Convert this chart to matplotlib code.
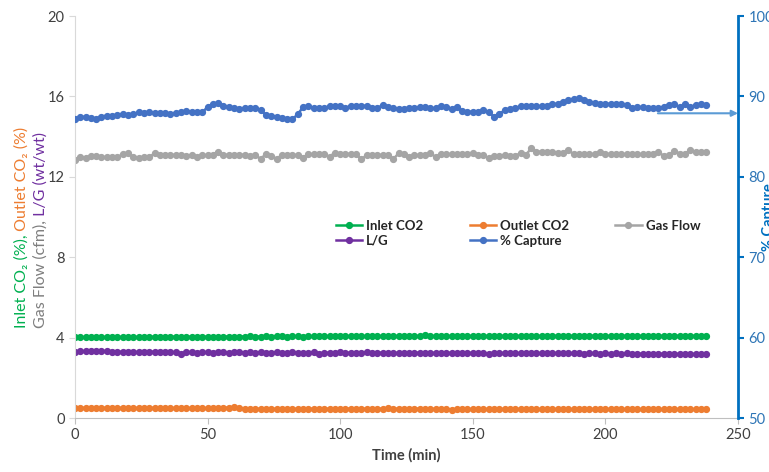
import numpy as np
import matplotlib
matplotlib.use("Agg")
import matplotlib.pyplot as plt

plt.rcParams['font.family'] = ['Lato', 'DejaVu Sans']

# sampling time, every 2 min
time_min = list(range(0, 240, 2))

inlet_co2 = [
    4.01, 4.01, 4.02, 4.02, 4.01, 4.02, 4.02, 4.03, 4.02, 4.03,
    4.03, 4.02, 4.03, 4.03, 4.04, 4.03, 4.04, 4.03, 4.04, 4.04,
    4.03, 4.04, 4.04, 4.05, 4.04, 4.04, 4.05, 4.04, 4.05, 4.05,
    4.04, 4.05, 4.05, 4.06, 4.05, 4.05, 4.06, 4.05, 4.06, 4.06,
    4.05, 4.06, 4.06, 4.05, 4.06, 4.07, 4.06, 4.06, 4.07, 4.06,
    4.06, 4.07, 4.07, 4.06, 4.07, 4.07, 4.06, 4.07, 4.07, 4.06,
    4.07, 4.07, 4.06, 4.07, 4.08, 4.07, 4.11, 4.07, 4.07, 4.08,
    4.07, 4.07, 4.08, 4.07, 4.08, 4.07, 4.08, 4.08, 4.07, 4.08,
    4.08, 4.07, 4.08, 4.08, 4.07, 4.08, 4.08, 4.08, 4.07, 4.08,
    4.08, 4.08, 4.07, 4.08, 4.08, 4.08, 4.07, 4.08, 4.08, 4.08,
    4.08, 4.07, 4.08, 4.08, 4.08, 4.08, 4.07, 4.08, 4.08, 4.08,
    4.08, 4.08, 4.07, 4.08, 4.08, 4.08, 4.08, 4.08, 4.08, 4.08,
]

outlet_co2 = [
    0.50, 0.51, 0.50, 0.51, 0.50, 0.51, 0.50, 0.50, 0.51, 0.50,
    0.50, 0.49, 0.50, 0.49, 0.50, 0.50, 0.49, 0.50, 0.49, 0.49,
    0.50, 0.49, 0.49, 0.50, 0.48, 0.49, 0.50, 0.49, 0.51, 0.52,
    0.53, 0.52, 0.46, 0.46, 0.45, 0.46, 0.45, 0.46, 0.45, 0.45,
    0.46, 0.45, 0.46, 0.45, 0.46, 0.46, 0.45, 0.46, 0.46, 0.45,
    0.46, 0.47, 0.46, 0.47, 0.46, 0.46, 0.47, 0.46, 0.47, 0.48,
    0.47, 0.46, 0.47, 0.46, 0.46, 0.47, 0.46, 0.46, 0.45, 0.46,
    0.45, 0.42, 0.44, 0.45, 0.44, 0.45, 0.44, 0.45, 0.44, 0.45,
    0.44, 0.45, 0.44, 0.44, 0.45, 0.44, 0.44, 0.45, 0.44, 0.44,
    0.45, 0.44, 0.44, 0.43, 0.44, 0.44, 0.43, 0.44, 0.44, 0.43,
    0.44, 0.44, 0.43, 0.44, 0.43, 0.44, 0.43, 0.44, 0.44, 0.43,
    0.44, 0.43, 0.44, 0.43, 0.44, 0.43, 0.44, 0.43, 0.44, 0.43,
]

gas_flow = [
    12.84, 12.97, 12.92, 13.05, 13.05, 12.98, 12.97, 12.97, 12.97, 13.13,
    13.20, 12.97, 12.96, 12.97, 12.98, 13.17, 13.08, 13.08, 13.06, 13.10,
    13.08, 13.05, 13.06, 12.97, 13.08, 13.07, 13.10, 13.25, 13.08, 13.10,
    13.06, 13.08, 13.10, 13.05, 13.08, 12.89, 13.13, 13.05, 12.89, 13.08,
    13.10, 13.08, 13.08, 12.95, 13.13, 13.12, 13.13, 13.12, 13.00, 13.20,
    13.13, 13.12, 13.15, 13.13, 12.87, 13.08, 13.08, 13.06, 13.10, 13.08,
    12.87, 13.17, 13.13, 12.97, 13.08, 13.08, 13.06, 13.20, 12.97, 13.13,
    13.12, 13.13, 13.12, 13.13, 13.13, 13.20, 13.08, 13.08, 12.92, 13.05,
    13.05, 13.06, 13.05, 13.05, 13.17, 13.08, 13.42, 13.25, 13.25, 13.22,
    13.25, 13.17, 13.20, 13.33, 13.13, 13.12, 13.13, 13.12, 13.13, 13.25,
    13.15, 13.12, 13.13, 13.12, 13.13, 13.14, 13.12, 13.13, 13.13, 13.15,
    13.25, 13.03, 13.08, 13.30, 13.15, 13.13, 13.33, 13.22, 13.25, 13.25,
]

lg_ratio = [
    3.30, 3.31, 3.32, 3.35, 3.34, 3.35, 3.31, 3.30, 3.28, 3.30,
    3.28, 3.29, 3.27, 3.29, 3.28, 3.30, 3.27, 3.28, 3.26, 3.27,
    3.19, 3.26, 3.27, 3.25, 3.27, 3.26, 3.25, 3.27, 3.26, 3.25,
    3.26, 3.27, 3.25, 3.26, 3.24, 3.26, 3.25, 3.24, 3.26, 3.25,
    3.24, 3.26, 3.25, 3.24, 3.25, 3.26, 3.18, 3.24, 3.25, 3.24,
    3.26, 3.25, 3.24, 3.25, 3.24, 3.26, 3.24, 3.25, 3.24, 3.25,
    3.23, 3.24, 3.25, 3.23, 3.24, 3.25, 3.24, 3.23, 3.24, 3.25,
    3.23, 3.24, 3.23, 3.24, 3.22, 3.24, 3.23, 3.22, 3.17, 3.23,
    3.22, 3.23, 3.22, 3.23, 3.21, 3.22, 3.23, 3.21, 3.22, 3.21,
    3.22, 3.23, 3.21, 3.22, 3.21, 3.22, 3.20, 3.21, 3.22, 3.20,
    3.21, 3.20, 3.21, 3.19, 3.21, 3.20, 3.19, 3.20, 3.19, 3.20,
    3.18, 3.20, 3.19, 3.18, 3.19, 3.18, 3.19, 3.18, 3.19, 3.18,
]

pct_capture = [
    87.20, 87.50, 87.40, 87.30, 87.15, 87.50, 87.60, 87.60, 87.70, 87.80,
    87.70, 87.80, 88.00, 87.90, 88.00, 87.90, 87.90, 87.90, 87.85, 87.95,
    88.00, 88.20, 88.05, 88.00, 88.00, 88.70, 89.05, 89.20, 88.85, 88.70,
    88.50, 88.40, 88.55, 88.55, 88.50, 88.30, 87.70, 87.55, 87.50, 87.30,
    87.20, 87.20, 87.75, 88.70, 88.80, 88.55, 88.50, 88.50, 88.85, 88.85,
    88.80, 88.55, 88.85, 88.85, 88.80, 88.85, 88.50, 88.50, 88.95, 88.70,
    88.50, 88.45, 88.45, 88.60, 88.60, 88.65, 88.65, 88.50, 88.50, 88.75,
    88.70, 88.45, 88.70, 88.20, 88.10, 88.10, 88.10, 88.25, 88.00, 87.50,
    87.85, 88.25, 88.40, 88.55, 88.75, 88.80, 88.80, 88.80, 88.75, 88.85,
    89.00, 89.10, 89.30, 89.55, 89.70, 89.75, 89.50, 89.30, 89.20, 89.05,
    89.10, 89.05, 89.05, 89.00, 88.90, 88.60, 88.70, 88.65, 88.60, 88.50,
    88.55, 88.70, 88.95, 89.00, 88.70, 89.00, 88.65, 88.95, 89.00, 88.95,
]

GREEN = '#00B050'
ORANGE = '#ED7D31'
GRAY = '#A5A5A5'
PURPLE = '#7030A0'
BLUE = '#4472C4'
AXIS_BLUE = '#0070C0'
TEXT = '#404040'

fig = plt.figure(figsize=(7.69, 4.72), dpi=100)
ax = fig.add_axes([0.0975, 0.1144, 0.8622, 0.8517])
ax2 = ax.twinx()

style = dict(marker='o', markersize=4.2, linewidth=1.8)
l_in, = ax.plot(time_min, inlet_co2, color=GREEN, label='Inlet CO2', **style)
l_out, = ax.plot(time_min, outlet_co2, color=ORANGE, label='Outlet CO2', **style)
l_gas, = ax.plot(time_min, gas_flow, color=GRAY, label='Gas Flow', **style)
l_lg, = ax.plot(time_min, lg_ratio, color=PURPLE, label='L/G', **style)
l_cap, = ax2.plot(time_min, pct_capture, color=BLUE, label='% Capture', **style)

ax.set_xlim(0, 250)
ax.set_ylim(0, 20)
ax2.set_ylim(50, 100)
ax.set_xticks(np.arange(0, 251, 50))
ax.set_yticks(np.arange(0, 21, 4))
ax2.set_yticks(np.arange(50, 101, 10))

for a in (ax, ax2):
    a.spines['top'].set_visible(False)
ax.spines['right'].set_visible(False)
ax.spines['left'].set_color('#D9D9D9')
ax.spines['bottom'].set_color('#BFBFBF')
ax2.spines['left'].set_visible(False)
ax2.spines['bottom'].set_visible(False)
ax2.spines['right'].set_color(AXIS_BLUE)
ax2.spines['right'].set_linewidth(2)

ax.tick_params(axis='both', labelsize=10.5, colors=TEXT, length=4, width=0.8)
ax.tick_params(axis='x', color='#BFBFBF')
ax.tick_params(axis='y', color='#D9D9D9')
ax2.tick_params(axis='y', labelsize=10.5, colors='#2E75B6', color=AXIS_BLUE,
                length=4, width=1.5)

ax.set_xlabel('Time (min)', fontsize=10.5, fontweight='bold', color=TEXT, labelpad=4)
ax2.set_ylabel('% Capture', fontsize=10.5, fontweight='bold', color=AXIS_BLUE)
ax2.yaxis.set_label_coords(1.036, 0.5)

# arrow pointing at the capture axis
ax2.annotate('', xy=(250, 87.9), xytext=(219.8, 87.9),
             arrowprops=dict(arrowstyle='-|>', color='#5B9BD5', lw=1.5,
                             mutation_scale=9, shrinkA=0, shrinkB=0),
             annotation_clip=False)

handles = [l_in, l_lg, l_out, l_cap, l_gas]
leg = ax.legend(handles=handles, labels=[h.get_label() for h in handles],
                ncol=3, frameon=False, loc='upper left',
                bbox_to_anchor=(336 / 769, 1 - 220 / 472),
                bbox_transform=fig.transFigure,
                prop={'weight': 'bold', 'size': 9.5},
                handlelength=2.0, handletextpad=0.3, columnspacing=3.5,
                labelspacing=0.2, borderaxespad=0, borderpad=0)
for t in leg.get_texts():
    t.set_color('#262626')
for h in leg.legend_handles:
    h.set_markersize(4.2)


def colored_vlabel(x, yc, parts, size=11.5):
    """Vertical label made of differently coloured pieces, centred at yc."""
    r = fig.canvas.get_renderer()
    items = [fig.text(x, 0, s, color=c, rotation=90, ha='center', va='bottom',
                      fontsize=size) for s, c in parts]
    heights = [it.get_window_extent(r).height for it in items]
    y = yc * fig.bbox.height - sum(heights) / 2
    for it, h in zip(items, heights):
        it.set_position((x, y / fig.bbox.height))
        y += h


colored_vlabel(22 / 769, 0.518, [('Inlet CO\u2082 (%),', GREEN),
                                 (' Outlet CO\u2082 (%)', ORANGE)])
colored_vlabel(41 / 769, 0.513, [('Gas Flow (cfm),', '#7F7F7F'),
                                 (' L/G (wt/wt)', PURPLE)])

fig.savefig('out.png', dpi=100)
